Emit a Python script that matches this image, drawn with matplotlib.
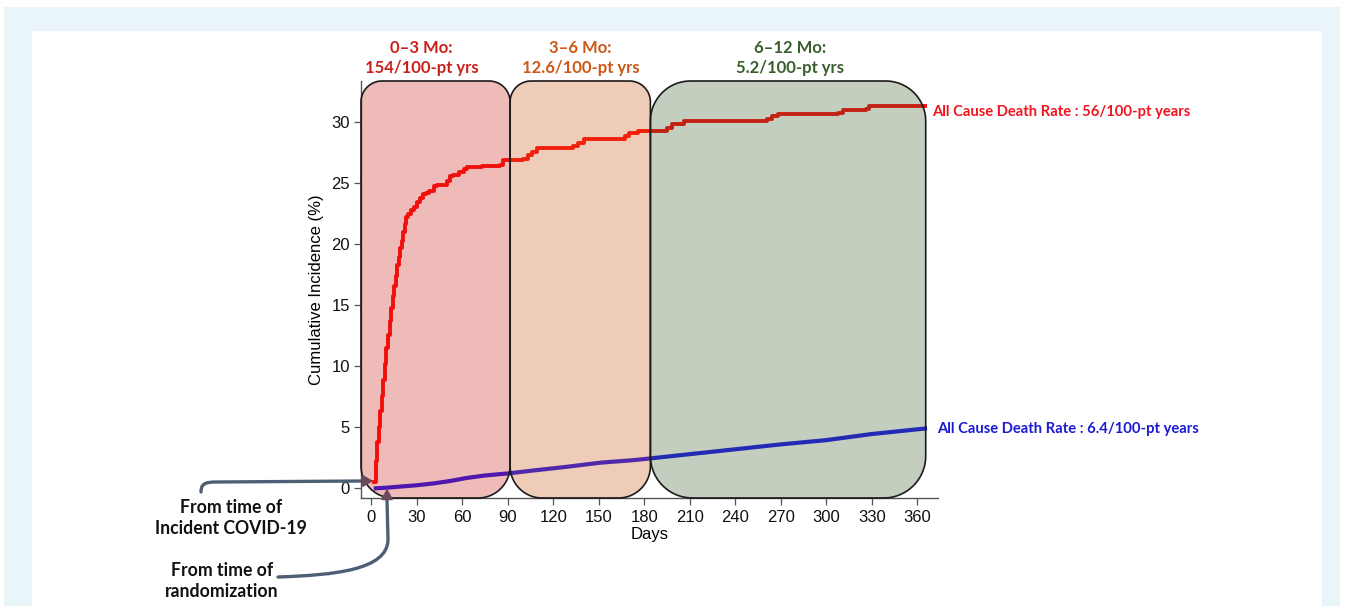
import numpy as np
import matplotlib
matplotlib.use("Agg")
import matplotlib.pyplot as plt
from matplotlib.patches import Polygon, PathPatch, FancyArrowPatch, Rectangle
from matplotlib.path import Path
from matplotlib.colors import to_rgba

# ---------------- data ----------------
red_days = [2, 3, 4, 5, 6, 7, 8, 9, 10, 11, 12, 13, 14, 15, 16, 17, 18, 19, 20, 21,
            22, 23, 24, 26, 28, 30, 32, 34, 36, 38, 41, 43, 50, 52, 54, 58, 61, 63,
            73, 85, 87, 100, 103, 106, 109, 133, 136, 140, 167, 170, 176, 195, 198,
            206, 261, 264, 268, 308, 311, 326, 328, 365]
red_vals = [0.5, 2.2, 3.8, 5.0, 6.3, 7.6, 8.9, 10.2, 11.5, 12.6, 13.7, 14.8, 15.8,
            16.6, 17.4, 18.3, 19.0, 19.7, 20.3, 21.0, 21.7, 22.2, 22.5, 22.8, 23.1,
            23.5, 23.8, 24.1, 24.2, 24.4, 24.8, 24.9, 25.2, 25.6, 25.7, 25.9, 26.2,
            26.3, 26.4, 26.5, 26.9, 27.0, 27.3, 27.6, 27.9, 28.1, 28.3, 28.6, 28.9,
            29.1, 29.3, 29.5, 29.9, 30.1, 30.3, 30.5, 30.7, 30.8, 31.0, 31.1, 31.3, 31.3]

blue_days = [3, 10, 20, 30, 41, 52, 63, 75, 91, 106, 128, 151, 172, 184, 210, 240,
             270, 300, 330, 365]
blue_vals = [0.0, 0.05, 0.15, 0.25, 0.4, 0.6, 0.85, 1.05, 1.23, 1.45, 1.75, 2.1,
             2.3, 2.45, 2.8, 3.2, 3.6, 3.95, 4.45, 4.9]

x_ticks = list(range(0, 361, 30))
y_ticks = [0, 5, 10, 15, 20, 25, 30]

period_edges = [91.5, 184, 365.5]
period_titles = ["0\u20133 Mo:\n154/100-pt yrs", "3\u20136 Mo:\n12.6/100-pt yrs",
                 "6\u201312 Mo:\n5.2/100-pt yrs"]
period_title_x = [33, 138, 276]
period_colors = ["#ca2019", "#cd5816", "#3a5f2d"]

red_label = "All Cause Death Rate : 56/100-pt years"
blue_label = "All Cause Death Rate : 6.4/100-pt years"

# ---------------- figure ----------------
W, H = 1345, 606
fig = plt.figure(figsize=(W / 100, H / 100), dpi=100)
fig.patch.set_facecolor("white")

def fx(x):
    return x / W

def fy(y):
    return 1 - y / H

# outer light-blue frame and inner white panel
fig.patches.append(Rectangle((fx(4), 0), fx(1340) - fx(4), fy(7), transform=fig.transFigure,
                             facecolor="#e9f5f8", edgecolor="none", zorder=-10))
fig.patches.append(Rectangle((fx(32), 0), fx(1322) - fx(32), fy(31), transform=fig.transFigure,
                             facecolor="white", edgecolor="none", zorder=-9))

ax_left, ax_right, ax_top, ax_bot = 361, 938, 81, 498
ax = fig.add_axes([fx(ax_left), fy(ax_bot), fx(ax_right) - fx(ax_left), (ax_bot - ax_top) / H])
ax.set_facecolor("none")

xlim = (-6.8, 373.6)
ylim = (-0.795, 33.39)
ax.set_xlim(*xlim)
ax.set_ylim(*ylim)

ax.step(red_days, red_vals, where="post", color="#ff0a0a", lw=2.8, zorder=2)
ax.plot(blue_days, blue_vals, color="#1a14ee", lw=3.0, zorder=2)

tick_font = {"family": ["Liberation Sans", "DejaVu Sans"], "size": 12}
ax.set_xticks(x_ticks)
ax.set_yticks(y_ticks)
ax.set_xticklabels([str(t) for t in x_ticks], fontdict=tick_font)
ax.set_yticklabels([str(t) for t in y_ticks], fontdict=tick_font)
ax.tick_params(axis="both", direction="out", length=5, width=0.9, color="#555555",
               labelcolor="#111111", pad=3)
ax.tick_params(axis="x", pad=4)
for s in ["top", "right"]:
    ax.spines[s].set_visible(False)
for s in ["left", "bottom"]:
    ax.spines[s].set_color("#555555")
    ax.spines[s].set_linewidth(1.0)
ax.set_xlabel("Days", fontdict=tick_font, labelpad=1)
ax.set_ylabel("Cumulative Incidence (%)", fontdict=tick_font, labelpad=5)

# rounded period boxes (overlay with transparency)
sx = (ax_right - ax_left) / (xlim[1] - xlim[0])
sy = (ax_bot - ax_top) / (ylim[1] - ylim[0])

def rounded_poly(x0, x1, y0, y1, r_top, r_bot, n=24):
    pts = []
    rbx, rby = r_bot / sx, r_bot / sy
    rtx, rty = r_top / sx, r_top / sy
    for t in np.linspace(np.pi, 1.5 * np.pi, n):
        pts.append((x0 + rbx + rbx * np.cos(t), y0 + rby + rby * np.sin(t)))
    for t in np.linspace(1.5 * np.pi, 2 * np.pi, n):
        pts.append((x1 - rbx + rbx * np.cos(t), y0 + rby + rby * np.sin(t)))
    for t in np.linspace(0, 0.5 * np.pi, n):
        pts.append((x1 - rtx + rtx * np.cos(t), y1 - rty + rty * np.sin(t)))
    for t in np.linspace(0.5 * np.pi, np.pi, n):
        pts.append((x0 + rtx + rtx * np.cos(t), y1 - rty + rty * np.sin(t)))
    return pts

box_x = [xlim[0]] + period_edges
radii = [(21, 32), (21, 32), (40, 42)]
for i in range(3):
    verts = rounded_poly(box_x[i], box_x[i + 1], ylim[0], ylim[1], *radii[i])
    poly = Polygon(verts, closed=True, facecolor=to_rgba(period_colors[i], 0.3),
                   edgecolor="#1a1a1a", lw=1.2, zorder=3, clip_on=False)
    ax.add_patch(poly)

label_font = ["Lato", "DejaVu Sans"]
for i in range(3):
    ax.text(period_title_x[i], 35.3, period_titles[i], ha="center", va="center",
            color=period_colors[i], fontsize=12, fontweight="bold", family=label_font,
            linespacing=1.3, clip_on=False)

ax.text(369.8, red_vals[-1] - 0.45, red_label, ha="left", va="center", color="#f0141e",
        fontsize=10.6, fontweight="bold", family=label_font, clip_on=False)
ax.text(372.8, blue_vals[-1], blue_label, ha="left", va="center", color="#1a1ad2",
        fontsize=10.6, fontweight="bold", family=label_font, clip_on=False)

# annotation texts
fig.text(fx(231), fy(518), "From time of\nIncident COVID-19", ha="center", va="center",
         fontsize=12.7, fontweight="bold", family=label_font, linespacing=1.3, color="#111111")
fig.text(fx(222), fy(581), "From time of\nrandomization", ha="center", va="center",
         fontsize=12.7, fontweight="bold", family=label_font, linespacing=1.3, color="#111111")

# annotation arrows (in figure pixel space)
line_col = "#4e5f75"
head_col = "#6a4a5a"

def P(x, y):
    return (fx(x), fy(y))

p1 = Path([P(201, 492), P(201, 484), P(205, 482), P(216, 482), P(362, 481)],
          [Path.MOVETO, Path.CURVE4, Path.CURVE4, Path.CURVE4, Path.LINETO])
fig.patches.append(PathPatch(p1, transform=fig.transFigure, facecolor="none",
                             edgecolor=line_col, lw=2.4, capstyle="round", zorder=5))
fig.patches.append(FancyArrowPatch(P(358, 481), P(376, 481), transform=fig.transFigure,
                                   arrowstyle="-|>,head_length=6,head_width=3.5",
                                   color=head_col, lw=1.5, zorder=6))

p2 = Path([P(278, 577), P(335, 575), P(387, 570), P(388, 540), P(387, 500)],
          [Path.MOVETO, Path.CURVE4, Path.CURVE4, Path.CURVE4, Path.LINETO])
fig.patches.append(PathPatch(p2, transform=fig.transFigure, facecolor="none",
                             edgecolor=line_col, lw=2.4, capstyle="round", zorder=5))
fig.patches.append(FancyArrowPatch(P(387, 503), P(387, 486), transform=fig.transFigure,
                                   arrowstyle="-|>,head_length=6,head_width=3.5",
                                   color=head_col, lw=1.5, zorder=6))

fig.savefig("out.png", dpi=100)
